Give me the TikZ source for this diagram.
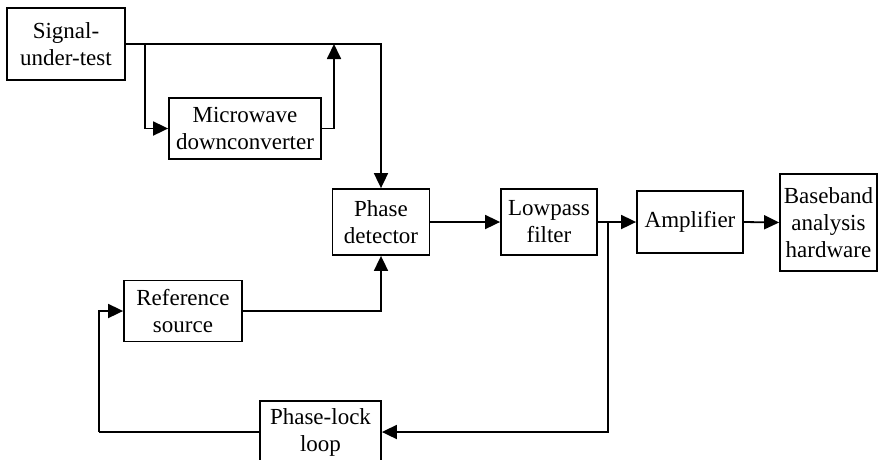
\documentclass[tikz,border=0pt]{standalone}
\usepackage{fontspec}
\setmainfont{Liberation Serif}
\usetikzlibrary{arrows.meta, positioning, calc}

\begin{document}
\begin{tikzpicture}[
		x=1pt, y=-1pt,
		block/.style={draw, line width=1.8pt, align=center, inner sep=0pt,
			font=\fontsize{23}{27}\selectfont},
		link/.style={line width=1.8pt},
		feed/.style={->, >={Triangle[length=15pt, width=14pt]}, line width=1.8pt}
		]
		
		% Fix the frame of the picture
		\useasboundingbox (0,0) rectangle (878,459);
		
		% Draw the blocks
		\node[block, minimum width=118pt, minimum height=72pt] (sig) at (66,44) {Signal-\\under-test};
		\node[block, minimum width=152pt, minimum height=61pt] (mw) at (245,128.5) {Microwave\\downconverter};
		\node[block, minimum width=97pt, minimum height=66pt] (pd) at (381,222) {Phase\\detector};
		\node[block, minimum width=96pt, minimum height=66pt] (lp) at (549,222) {Lowpass\\filter};
		\node[block, minimum width=106pt, minimum height=62pt] (amp) at (690,222) {Amplifier};
		\node[block, minimum width=97pt, minimum height=97pt] (bb) at (828.5,222.5) {Baseband\\analysis\\hardware};
		\node[block, minimum width=118pt, minimum height=61pt] (ref) at (183,311) {Reference\\source};
		\node[block, minimum width=121pt, minimum height=62pt] (pll) at (320.5,432) {Phase-lock\\loop};
		
		% Branch points and corners
		\coordinate (split) at (145,44);
		\coordinate (merge) at (334,44);
		\coordinate (tap) at (608,222);
		\coordinate (back) at (99,432);
		
		% Signal path
		\draw[feed] (sig.east) -| (pd.north);
		\draw[feed] (split) |- (mw.west);
		\draw[feed] (mw.east) -| (merge);
		\draw[feed] (pd.east) -- (lp.west);
		\draw[feed] (lp.east) -- (amp.west);
		\draw[feed] (amp.east) -- (bb.west);
		
		% Reference and phase-lock loop
		\draw[feed] (ref.east) -| (pd.south);
		\draw[feed] (tap) |- (pll.east);
		\draw[link] (pll.west) -- (back);
		\draw[feed] (back) |- (ref.west);
		
	\end{tikzpicture}
\end{document}
